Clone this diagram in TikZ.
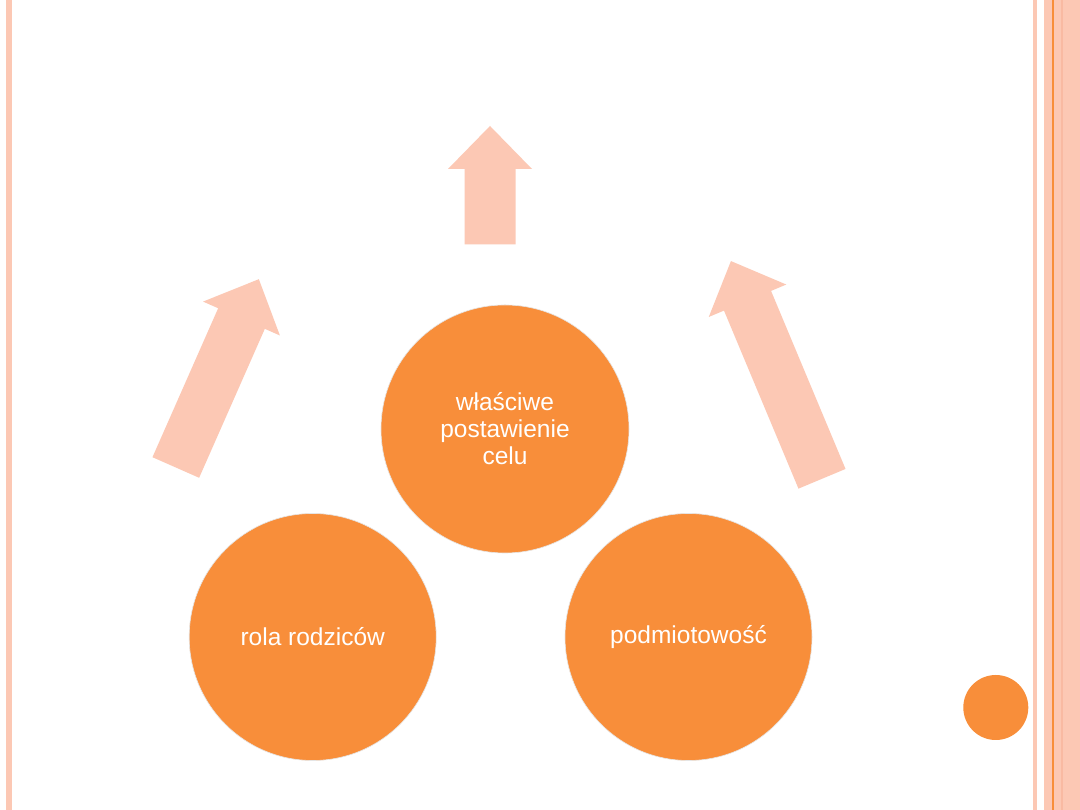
\documentclass[tikz,border=0pt]{standalone}
\usepackage{fontspec}
\setmainfont{Liberation Sans}
\definecolor{orangec}{RGB}{248,142,58}
\definecolor{salmon}{RGB}{252,200,180}
\definecolor{salmondk}{RGB}{249,186,162}
\tikzset{
  bigcirc/.style={circle, fill=orangec, draw=black!10, line width=0.6pt, minimum size=#1, inner sep=0pt,
    text=white, align=center, font=\fontsize{24.5}{27}\selectfont},
  arrowfill/.style={fill=salmon, draw=none}
}
\newcommand{\uparrowshape}[4]{% x, y, angle, length
  \begin{scope}[shift={(#1,#2)}, rotate=#3]
    \fill[salmon] (0,-25.5) -- (#4-43,-25.5) -- (#4-43,-42) -- (#4,0) -- (#4-43,42) -- (#4-43,25.5) -- (0,25.5) -- cycle;
  \end{scope}}
\begin{document}
\begin{tikzpicture}[x=1pt,y=1pt]
\useasboundingbox (0,0) rectangle (1080,810);
\fill[white] (0,0) rectangle (1080,810);
% side stripes
\fill[salmon] (6,0) rectangle (12,810);
\fill[salmon] (1032.7,0) rectangle (1036.7,810);
\fill[salmon] (1044,0) rectangle (1080,810);
\fill[orangec] (1052,0) rectangle (1053.7,810);
\fill[salmondk] (1061,0) rectangle (1063,810);
% arrows
\uparrowshape{490}{565.7}{90}{118.3}
\uparrowshape{175.8}{342.5}{66.2}{205.8}
\uparrowshape{822}{331.2}{112.7}{236}
% circles
\node[bigcirc=248pt] (goal) at (505,381) {właściwe\\postawienie\\celu};
\node[bigcirc=247pt] (parents) at (312.7,173) {rola rodziców};
\node[bigcirc=247pt] (subject) at (688.5,173) {podmiotowość};
\node[circle, fill=orangec, minimum size=65pt, inner sep=0pt] (dot) at (995.8,102.5) {};
\end{tikzpicture}
\end{document}
